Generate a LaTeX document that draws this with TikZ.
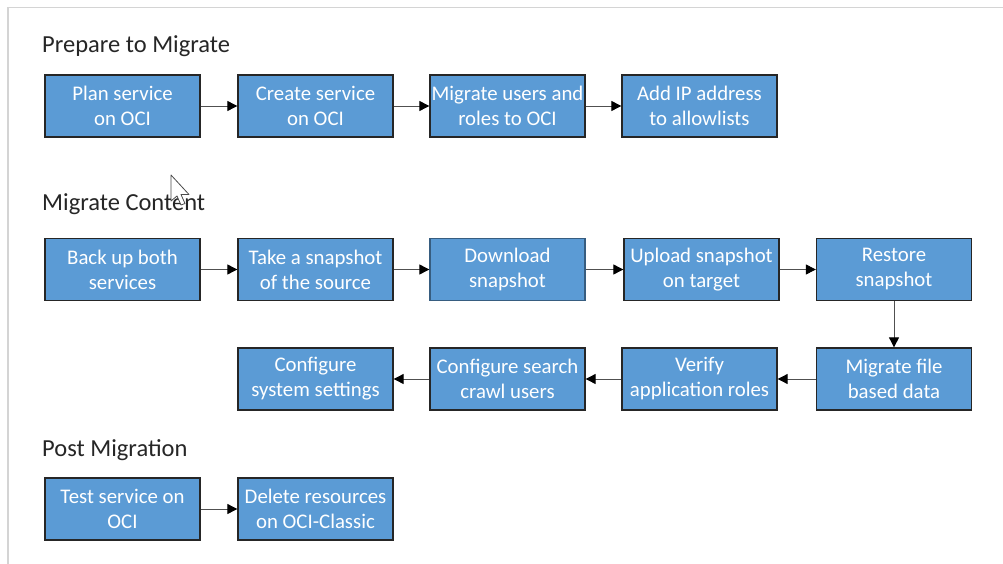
\documentclass[tikz,border=0pt]{standalone}
\usepackage{fontspec}
\setmainfont{Carlito}
\usetikzlibrary{arrows.meta}
\definecolor{boxblue}{HTML}{5B9BD5}
\definecolor{framegray}{HTML}{D4D4D4}
\definecolor{linegray}{HTML}{505050}
\begin{document}
\begin{tikzpicture}[x=1pt,y=-1pt,
  stepbox/.style={draw=black!85, line width=1.3pt, fill=boxblue, text=white,
    minimum width=155pt, minimum height=62pt, align=center, inner sep=0pt,
    font=\fontsize{20.8}{25}\selectfont},
  heading/.style={anchor=base west, inner sep=0pt, text=black!85,
    font=\fontsize{24.5}{28}\selectfont},
  arr/.style={draw=linegray, line width=0.9pt,
    -{Triangle[length=10pt,width=10pt,color=black]}}]
\useasboundingbox (0,0) rectangle (1003,564);
\fill[white] (0,0) rectangle (1003,564);
\draw[framegray, line width=1.2pt] (8,564) -- (8,7.5) -- (1003,7.5);

% headings
\node[heading] (h1) at (42,53) {Prepare to Migrate};
\node[heading] (h2) at (42,210) {Migrate Content};
\node[heading] (h3) at (42,456.5) {Post Migration};

% row 1
\node[stepbox] (a1) at (122.5,106) {Plan service\\on OCI};
\node[stepbox] (a2) at (315.5,106) {Create service\\on OCI};
\node[stepbox] (a3) at (507.5,106) {Migrate users and\\roles to OCI};
\node[stepbox] (a4) at (699.5,106) {Add IP address\\to allowlists};

% row 2
\node[stepbox] (b1) at (122.5,269.5) {Back up both\\services};
\node[stepbox] (b2) at (315.5,269.5) {Take a snapshot\\of the source};
\node[stepbox, draw=boxblue!60!black] (b3) at (507.5,269.5) {Download\\snapshot};
\node[stepbox] (b4) at (701.5,269.5) {Upload snapshot\\on target};
\node[stepbox] (b5) at (894,269.5) {Restore\\snapshot};

% row 3
\node[stepbox] (c1) at (894,379) {Migrate file\\based data};
\node[stepbox] (c2) at (699.5,379) {Verify\\application roles};
\node[stepbox] (c3) at (507.5,379) {Configure search\\crawl users};
\node[stepbox] (c4) at (315.5,379) {Configure\\system settings};

% row 4
\node[stepbox] (d1) at (122.5,509) {Test service on\\OCI};
\node[stepbox] (d2) at (315.5,509) {Delete resources\\on OCI-Classic};

% connectors
\draw[arr] (a1) -- (a2);
\draw[arr] (a2) -- (a3);
\draw[arr] (a3) -- (a4);
\draw[arr] (b1) -- (b2);
\draw[arr] (b2) -- (b3);
\draw[arr] (b3) -- (b4);
\draw[arr] (b4) -- (b5);
\draw[arr] (b5) -- (c1);
\draw[arr] (c1) -- (c2);
\draw[arr] (c2) -- (c3);
\draw[arr] (c3) -- (c4);
\draw[arr] (d1) -- (d2);

% mouse cursor
\draw[black!70, fill=white, line width=0.8pt, line join=round]
  (171,175) -- (171,201) -- (177,196) -- (181,205) -- (185,203.5)
  -- (181,194.5) -- (189,194.5) -- cycle;
\end{tikzpicture}
\end{document}
